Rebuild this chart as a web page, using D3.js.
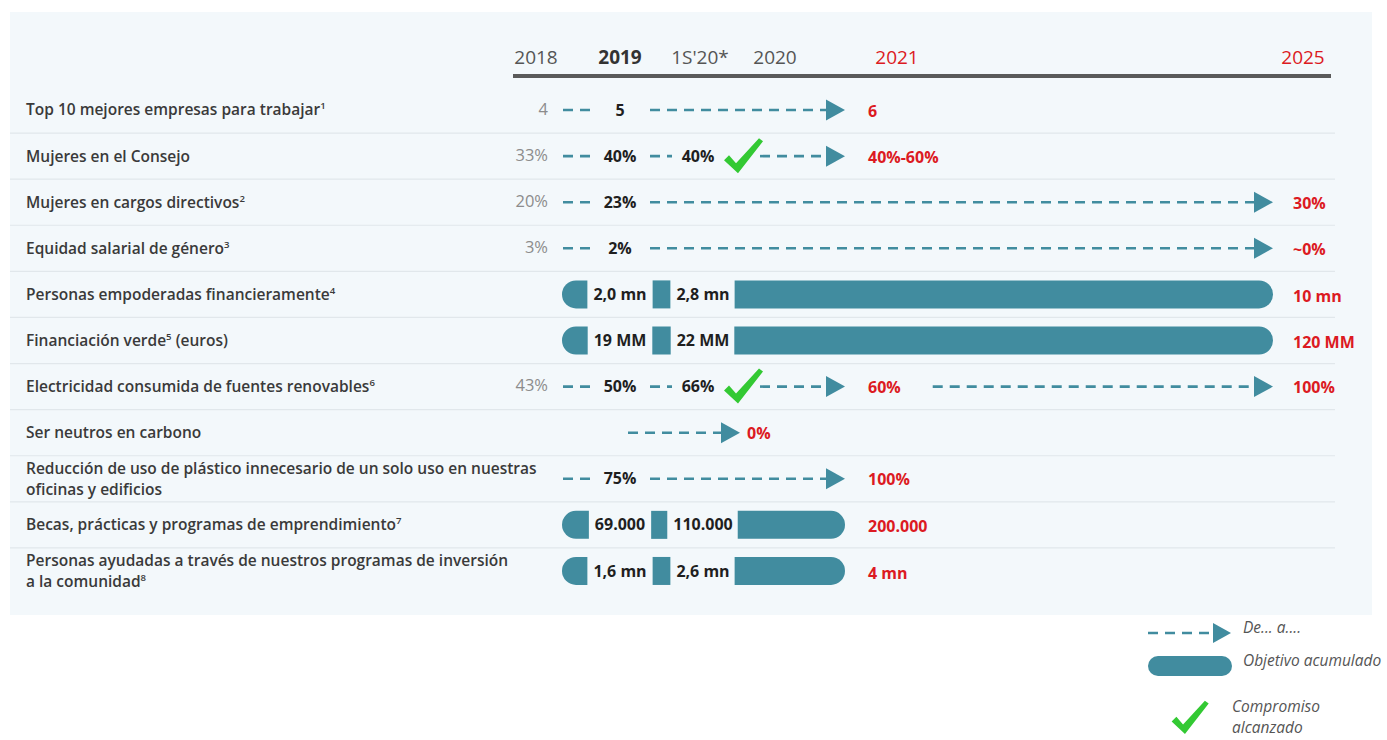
<!DOCTYPE html>
<html>
<head>
<meta charset="utf-8">
<script src="https://cdn.jsdelivr.net/npm/d3@7"></script>
<style>
  body { margin: 0; background: #ffffff; }
  svg { display: block; font-family: "Open Sans", "Noto Sans", sans-serif; }
</style>
</head>
<body>
<svg id="chart" width="1387" height="740"></svg>
<script>
// ---- Data ----------------------------------------------------------------
const periodLabels = ["2018", "2019", "1S'20*", "2020", "2021", "2025"];
const periodKeys   = [2018, 2019, 2019.5, 2020, 2021, 2025];

// "^n" marks a footnote superscript, "\n" a line break
const rowLabels = [
  "Top 10 mejores empresas para trabajar^1",
  "Mujeres en el Consejo",
  "Mujeres en cargos directivos^2",
  "Equidad salarial de género^3",
  "Personas empoderadas financieramente^4",
  "Financiación verde^5 (euros)",
  "Electricidad consumida de fuentes renovables^6",
  "Ser neutros en carbono",
  "Reducción de uso de plástico innecesario de un solo uso en nuestras\noficinas y edificios",
  "Becas, prácticas y programas de emprendimiento^7",
  "Personas ayudadas a través de nuestros programas de inversión\na la comunidad^8"
];
// "arrow" = De... a...., "bar" = Objetivo acumulado
const rowKinds   = ["arrow", "arrow", "arrow", "arrow", "bar", "bar", "arrow", "arrow", "arrow", "bar", "bar"];
const values2018 = ["4", "33%", "20%", "3%", null, null, "43%", null, null, null, null];
const values2019 = ["5", "40%", "23%", "2%", "2,0 mn", "19 MM", "50%", null, "75%", "69.000", "1,6 mn"];
const values1S20 = [null, "40%", null, null, "2,8 mn", "22 MM", "66%", null, null, "110.000", "2,6 mn"];
const targets2020 = [null, null, null, null, null, null, null, "0%", null, null, null];
const targets2021 = ["6", "40%-60%", null, null, null, null, "60%", null, "100%", "200.000", "4 mn"];
const targets2025 = [null, null, "30%", "~0%", "10 mn", "120 MM", "100%", null, null, null, null];
const achieved    = [false, true, false, false, false, false, true, false, false, false, false];

const legendItems = ["De... a....", "Objetivo acumulado", "Compromiso\nalcanzado"];

// ---- Style ---------------------------------------------------------------
const TEAL = "#418c9f", RED = "#dc1a22", GREEN = "#33c933";
const DARK = "#1f1f1f", LABEL = "#3a3a3a", GREY = "#8c8c8c";
const VAL_SIZE = 16, LAB_SIZE = 15.5;

const svg = d3.select("#chart");

// ---- Scales --------------------------------------------------------------
const x = d3.scaleLinear()
  .domain(periodKeys)
  .range([536, 620, 700, 775, 897, 1303]);

const y = d3.scaleBand()
  .domain(d3.range(rowLabels.length))
  .range([87, 594]);
const cy = i => y(i) + y.bandwidth() / 2;

// where a target label starts and how far before it the arrow ends
const targetAnchor = yr => yr === 2020 ? x(2020) - 28 : yr === 2021 ? x(2021) - 29 : x(2025) - 10;
const tipGap = { 2020: 7, 2021: 23, 2025: 20 };
const tipX = yr => targetAnchor(yr) - tipGap[yr];

// ---- Panel ---------------------------------------------------------------
svg.append("rect")
  .attr("x", 10).attr("y", 12).attr("width", 1362).attr("height", 603)
  .attr("fill", "#f3f8fb");

// row separators
svg.append("g").selectAll("line")
  .data(d3.range(1, rowLabels.length))
  .join("line")
  .attr("x1", 10).attr("x2", 1335)
  .attr("y1", i => y(i)).attr("y2", i => y(i))
  .attr("stroke", "#e1e7eb").attr("stroke-width", 1.2);

// ---- Header --------------------------------------------------------------
const header = svg.append("g");
header.selectAll("text")
  .data(periodKeys)
  .join("text")
  .attr("x", d => x(d))
  .attr("y", 64)
  .attr("text-anchor", "middle")
  .attr("font-size", 19)
  .attr("font-weight", d => d === 2019 ? 700 : 400)
  .attr("fill", d => d >= 2021 ? RED : d === 2019 ? "#333" : "#555")
  .text((d, i) => periodLabels[i]);

header.append("line")
  .attr("x1", 513).attr("x2", 1331)
  .attr("y1", 76).attr("y2", 76)
  .attr("stroke", "#5a5a5a").attr("stroke-width", 4);

// ---- Row labels ----------------------------------------------------------
const LINE_H = 21;
function richText(sel, str, size) {
  const lines = str.split("\n");
  lines.forEach((line, li) => {
    const parts = line.split(/\^(\d)/);
    parts.forEach((p, pi) => {
      if (p === "") return;
      const t = sel.append("tspan").text(p);
      if (pi === 0 && li > 0) t.attr("x", sel.attr("x")).attr("dy", LINE_H);
      if (pi % 2 === 1) {
        t.attr("font-size", size * 0.62).attr("baseline-shift", "super");
      }
    });
  });
}

const labels = svg.append("g");
rowLabels.forEach((lab, i) => {
  const nLines = lab.split("\n").length;
  const t = labels.append("text")
    .attr("x", 26)
    .attr("y", cy(i) - (nLines - 1) * LINE_H / 2)
    .attr("dy", "0.35em")
    .attr("font-size", LAB_SIZE)
    .attr("font-weight", 600)
    .attr("fill", LABEL);
  richText(t, lab, LAB_SIZE);
});

// ---- Marks ---------------------------------------------------------------
const marks = svg.append("g");
const measure = svg.append("text").attr("font-size", VAL_SIZE).attr("font-weight", 700).attr("visibility", "hidden");
const textW = s => { measure.text(s); return measure.node().getComputedTextLength(); };

function dashed(x1, x2, yy) {
  if (x2 <= x1) return;
  marks.append("line")
    .attr("x1", x1).attr("x2", x2).attr("y1", yy).attr("y2", yy)
    .attr("stroke", TEAL).attr("stroke-width", 2.6)
    .attr("stroke-dasharray", "10,7");
}
function triangle(tip, yy, g = marks, w = 19, h = 21) {
  g.append("path")
    .attr("d", `M${tip},${yy} L${tip - w},${yy - h / 2} L${tip - w},${yy + h / 2} Z`)
    .attr("fill", TEAL);
}
function check(bx, by, g = marks, s = 1) {
  g.append("path")
    .attr("transform", `translate(${bx},${by}) scale(${s})`)
    .attr("d", "M-13,-12 L-8,-17 L-1,-9 L22,-34 L26,-31 L1,1 Z")
    .attr("fill", GREEN);
}
function valueText(xx, yy, s, anchor, color, weight) {
  marks.append("text")
    .attr("x", xx).attr("y", yy).attr("dy", "0.35em")
    .attr("text-anchor", anchor)
    .attr("font-size", weight === 700 ? VAL_SIZE : 16.5).attr("font-weight", weight)
    .attr("fill", color)
    .text(s);
}
function targetsOf(i) {
  const out = [];
  if (targets2020[i]) out.push([2020, targets2020[i]]);
  if (targets2021[i]) out.push([2021, targets2021[i]]);
  if (targets2025[i]) out.push([2025, targets2025[i]]);
  return out;
}

rowKinds.forEach((kind, i) => {
  const yy = cy(i);
  const tg = targetsOf(i);

  if (values2018[i]) valueText(x(2018) + 12, yy - 1, values2018[i], "end", GREY, 400);

  if (kind === "arrow") {
    if (values2019[i]) {
      valueText(x(2019), yy, values2019[i], "middle", DARK, 700);
      dashed(x(2018) + 27, x(2019) - 28, yy);
    }
    let start = values2019[i] ? x(2019) + 30 : x(2019) + 8;
    if (values1S20[i]) {
      dashed(start, x(2019.5) - 28, yy);
      valueText(x(2019.5) - 2, yy, values1S20[i], "middle", DARK, 700);
      start = x(2019.5) + 20;
      if (achieved[i]) {
        check(x(2019.5) + 37, yy + 16);
        start = x(2019.5) + 60;
      }
    }
    tg.forEach(([yr, s], k) => {
      const tip = tipX(yr);
      if (k > 0) start = targetAnchor(tg[k - 1][0]) + textW(tg[k - 1][1]) + 32;
      dashed(start, tip - 19, yy);
      triangle(tip, yy);
      valueText(targetAnchor(yr), yy + 1, s, "start", RED, 700);
    });
  } else {
    const h = 28, r = h / 2;
    const w19 = textW(values2019[i]);
    const w1S = textW(values1S20[i]);
    const c1S = x(2019.5) + 3;
    // first period: left-rounded segment
    const a0 = x(2018) + 26, a1 = x(2019) - w19 / 2 - 6;
    marks.append("path")
      .attr("d", `M${a1},${yy - r} L${a0 + r},${yy - r} A${r},${r} 0 0 0 ${a0 + r},${yy + r} L${a1},${yy + r} Z`)
      .attr("fill", TEAL);
    valueText(x(2019), yy, values2019[i], "middle", DARK, 700);
    // second period: plain segment
    const b0 = x(2019) + w19 / 2 + 6, b1 = c1S - w1S / 2 - 6;
    marks.append("rect")
      .attr("x", b0).attr("y", yy - r).attr("width", Math.max(2, b1 - b0)).attr("height", h)
      .attr("fill", TEAL);
    valueText(c1S, yy, values1S20[i], "middle", DARK, 700);
    // remaining cumulative goal: right-rounded segment
    const [yr, s] = tg[0];
    const c0 = c1S + w1S / 2 + 5, c1 = tipX(yr);
    marks.append("path")
      .attr("d", `M${c0},${yy - r} L${c1 - r},${yy - r} A${r},${r} 0 0 1 ${c1 - r},${yy + r} L${c0},${yy + r} Z`)
      .attr("fill", TEAL);
    valueText(targetAnchor(yr), yy + 2, s, "start", RED, 700);
  }
});

// ---- Legend --------------------------------------------------------------
const legend = svg.append("g");
legend.append("line")
  .attr("x1", 1148).attr("x2", 1213).attr("y1", 633).attr("y2", 633)
  .attr("stroke", TEAL).attr("stroke-width", 2.6).attr("stroke-dasharray", "10,7");
triangle(1231, 633, legend, 18, 20);
legend.append("rect")
  .attr("x", 1148).attr("y", 656).attr("width", 84).attr("height", 20)
  .attr("rx", 10).attr("fill", TEAL);
check(1184, 733, legend, 0.95);

const legendPos = [[1243, 633], [1243, 666], [1232, 712]];
legendItems.forEach((txt, k) => {
  const t = legend.append("text")
    .attr("x", legendPos[k][0]).attr("y", legendPos[k][1]).attr("dy", "0.35em")
    .attr("font-size", 15.5).attr("font-style", "italic").attr("fill", "#555");
  txt.split("\n").forEach((ln, li) => {
    t.append("tspan").attr("x", legendPos[k][0]).attr("dy", li === 0 ? 0 : 21).text(ln);
  });
});
measure.remove();
</script>
</body>
</html>
